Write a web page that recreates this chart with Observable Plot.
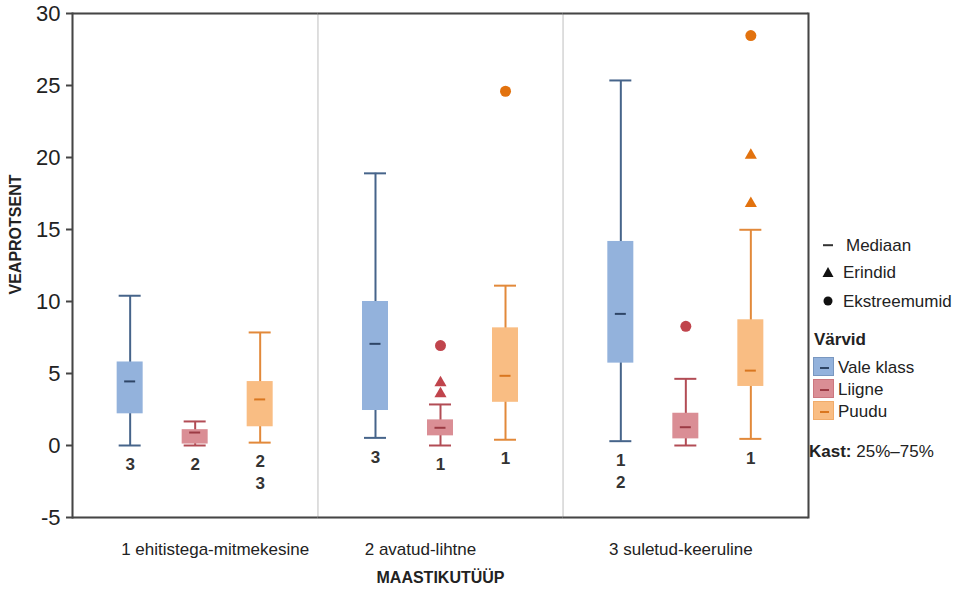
<!DOCTYPE html>
<html><head><meta charset="utf-8">
<script src="https://cdn.jsdelivr.net/npm/d3@7"></script>
<script src="https://cdn.jsdelivr.net/npm/@observablehq/plot@0.6"></script>
<style>
body{margin:0;background:#fff;font-family:"Liberation Sans",Arial,sans-serif;}
#wrap{position:relative;width:957px;height:595px;overflow:hidden;}
#legend .it{position:absolute;transform:translateY(-50%);font-size:17px;color:#222;white-space:nowrap;line-height:1;}
#legend .sym{position:absolute;transform:translate(-50%,-50%);}
#legend .sw{position:absolute;width:21px;height:19px;box-sizing:border-box;}
#legend .sw i{position:absolute;left:6px;top:9px;width:9px;height:1.5px;}
</style></head><body>
<div id="wrap"><div id="chart"></div><div id="legend"></div></div>
<script>
const groups = ["1 ehitistega-mitmekesine", "2 avatud-lihtne", "3 suletud-keeruline"];
const series = ["Vale klass", "Liigne", "Puudu"];
// values per group (rows) and series (columns)
const whiskerLow  = [[0, 0, 0.2], [0.53, 0, 0.4], [0.3, 0, 0.46]];
const quartile1   = [[2.2, 0.1, 1.3], [2.43, 0.67, 3.0], [5.72, 0.46, 4.1]];
const medians     = [[4.45, 0.9, 3.2], [7.06, 1.23, 4.84], [9.14, 1.27, 5.2]];
const quartile3   = [[5.8, 1.1, 4.44], [10.0, 1.78, 8.17], [14.17, 2.24, 8.73]];
const whiskerHigh = [[10.4, 1.67, 7.85], [18.9, 2.85, 11.1], [25.35, 4.63, 14.98]];
const countLabels = [["3", "2", "2\n3"], ["3", "1", "1"], ["1\n2", "", "1"]];
// outliers: [group, series, value]
const erindid = [
  ["2 avatud-lihtne", "Liigne", 4.35], ["2 avatud-lihtne", "Liigne", 3.59],
  ["3 suletud-keeruline", "Puudu", 20.15], ["3 suletud-keeruline", "Puudu", 16.8]
];
const ekstreemumid = [
  ["2 avatud-lihtne", "Liigne", 6.94], ["2 avatud-lihtne", "Puudu", 24.6],
  ["3 suletud-keeruline", "Liigne", 8.28], ["3 suletud-keeruline", "Puudu", 28.47]
];
const yTicks = [-5, 0, 5, 10, 15, 20, 25, 30];

// styles
const boxFill = ["#93b2dc", "#da8e95", "#f9bd83"];
const lineColor = ["#46648a", "#b24c55", "#e2893a"];
const medColor = ["#2e4566", "#9c3a44", "#d9761f"];
const pointColor = ["#46648a", "#c0444c", "#e2720e"];
const groupLabelShift = [20, -20, -5];
const si = s => series.indexOf(s);

const rows = groups.flatMap((g, gi) => series.map((s, k) => ({
  group: g, series: s,
  low: whiskerLow[gi][k], q1: quartile1[gi][k], med: medians[gi][k],
  q3: quartile3[gi][k], high: whiskerHigh[gi][k], label: countLabels[gi][k]
})));

const font = "'Liberation Sans', Arial, sans-serif";
const chart = Plot.plot({
  width: 957, height: 595,
  marginLeft: 72, marginRight: 149, marginTop: 13, marginBottom: 78,
  style: {fontFamily: font, color: "#222", background: "#fff"},
  fx: {domain: groups, padding: 0, round: false, axis: null},
  x: {domain: series, paddingInner: 0.6, paddingOuter: 0.687, round: false, axis: null},
  y: {domain: [-5, 30]},
  marks: [
    Plot.frame({stroke: "#dcdcdc", strokeWidth: 1.5}),
    Plot.ruleY([-5, 30], {stroke: "#454545", strokeWidth: 2}),
    Plot.frame({anchor: "left", fx: () => groups[0], stroke: "#454545", strokeWidth: 2}),
    Plot.frame({anchor: "right", fx: () => groups[2], stroke: "#454545", strokeWidth: 2}),
    Plot.axisY({anchor: "left", ticks: yTicks, tickFormat: d => String(d), tickSize: 6, tickPadding: 6, fontSize: 22, stroke: "#454545", strokeWidth: 2, label: null, color: "#222"}),
    ...groups.map((g, i) => Plot.text([g], {fx: d => d, frameAnchor: "bottom", textAnchor: "middle", dy: 37, dx: groupLabelShift[i], fontSize: 17, fill: "#222"})),
    Plot.ruleX(rows, {fx: "group", x: "series", y1: "low", y2: "high", stroke: d => lineColor[si(d.series)], strokeWidth: 2}),
    Plot.barY(rows, {fx: "group", x: "series", y1: "q1", y2: "q3", fill: d => boxFill[si(d.series)]}),
    Plot.tickY(rows, {fx: "group", x: "series", y: "low", stroke: d => lineColor[si(d.series)], strokeWidth: 2, insetLeft: 2, insetRight: 2}),
    Plot.tickY(rows, {fx: "group", x: "series", y: "high", stroke: d => lineColor[si(d.series)], strokeWidth: 2, insetLeft: 2, insetRight: 2}),
    Plot.tickY(rows, {fx: "group", x: "series", y: "med", stroke: d => medColor[si(d.series)], strokeWidth: 2, insetLeft: 7.5, insetRight: 7.5}),
    Plot.dot(erindid, {fx: d => d[0], x: d => d[1], y: d => d[2], symbol: "triangle", r: 4.5, fill: d => pointColor[si(d[1])], stroke: "none"}),
    Plot.dot(ekstreemumid, {fx: d => d[0], x: d => d[1], y: d => d[2], symbol: "circle", r: 5.5, fill: d => pointColor[si(d[1])], stroke: "none"}),
    Plot.text(rows, {fx: "group", x: "series", y: "low", text: "label", lineAnchor: "top", dy: 9, fontSize: 17, fontWeight: "bold", fill: "#333", lineHeight: 1.3}),
    Plot.text(["VEAPROTSENT"], {fx: () => groups[0], frameAnchor: "left", textAnchor: "middle", rotate: -90, dx: -57, dy: -31, fontSize: 16, fontWeight: "bold", fill: "#222"}),
    Plot.text(["MAASTIKUTÜÜP"], {fx: () => groups[1], frameAnchor: "bottom", textAnchor: "middle", dy: 65, fontSize: 16, fontWeight: "bold", fill: "#222"})
  ]
});
document.getElementById("chart").append(chart);

// legend
const lg = document.getElementById("legend");
function add(html) { lg.insertAdjacentHTML("beforeend", html); }
add(`<div class="sym" style="left:828px;top:245px;width:10px;height:1.6px;background:#333"></div>`);
add(`<div class="it" style="left:846px;top:245px">Mediaan</div>`);
add(`<svg class="sym" style="left:828px;top:272px" width="12" height="11"><path d="M6,0.5L11.5,10.5L0.5,10.5Z" fill="#111"/></svg>`);
add(`<div class="it" style="left:843px;top:272px">Erindid</div>`);
add(`<svg class="sym" style="left:828px;top:301px" width="10" height="10"><circle cx="5" cy="5" r="4.5" fill="#111"/></svg>`);
add(`<div class="it" style="left:843px;top:301px">Ekstreemumid</div>`);
add(`<div class="it" style="left:814px;top:339px;font-weight:bold">Värvid</div>`);
series.forEach((s, k) => {
  const y = 367 + k * 22;
  add(`<div class="sw" style="left:813px;top:${y - 10}px;background:${boxFill[k]};border:1px solid ${lineColor[k]}55"><i style="background:${medColor[k]}"></i></div>`);
  add(`<div class="it" style="left:838px;top:${y}px">${s}</div>`);
});
add(`<div class="it" style="left:809px;top:451px"><b>Kast:</b> 25%–75%</div>`);
</script>
</body></html>
